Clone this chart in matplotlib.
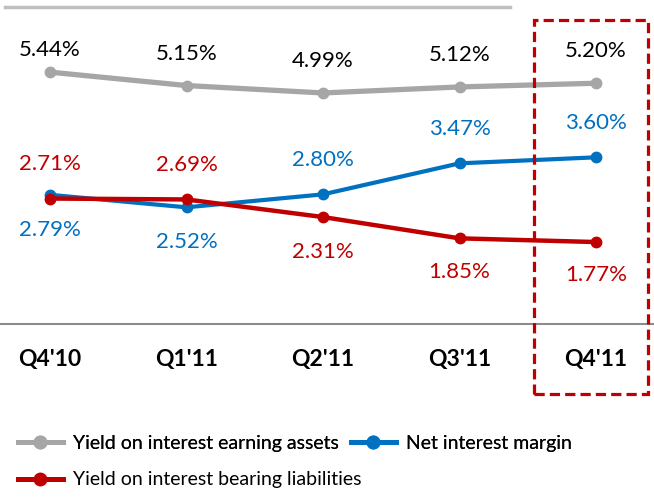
import matplotlib
matplotlib.use("Agg")
import matplotlib.pyplot as plt
from matplotlib.lines import Line2D
from matplotlib.patches import Rectangle

plt.rcParams["font.family"] = ["Lato", "DejaVu Sans"]

# data
quarters = ["Q4'10", "Q1'11", "Q2'11", "Q3'11", "Q4'11"]
yield_assets = [5.44, 5.15, 4.99, 5.12, 5.20]
net_margin = [2.79, 2.52, 2.80, 3.47, 3.60]
yield_liab = [2.71, 2.69, 2.31, 1.85, 1.77]

# label offsets in points (positive = above the point)
off_assets = [16, 23, 23, 23, 23]
off_margin = [-25, -25, 25, 25, 25]
off_liab = [25, 25, -25, -24, -24]

GRAY = "#A6A6A6"
BLUE = "#0070C0"
RED = "#C00000"

W, H = 654, 499
fig = plt.figure(figsize=(W / 100, H / 100), dpi=100)
ax = fig.add_axes([0, (H - 324) / H, 1, 324 / H])

x = list(range(len(quarters)))
series = [
    (yield_assets, off_assets, GRAY, "black", 3.8, "Yield on interest earning assets"),
    (net_margin, off_margin, BLUE, BLUE, 3.0, "Net interest margin"),
    (yield_liab, off_liab, RED, RED, 3.2, "Yield on interest bearing liabilities"),
]
for vals, offs, col, tcol, lw, name in series:
    ax.plot(x, vals, color=col, lw=lw, marker="o", ms=7.5, label=name,
            solid_capstyle="round", zorder=3)
    for xi, v, o in zip(x, vals, offs):
        ax.annotate(f"{v:.2f}%", (xi, v), xytext=(0, o), textcoords="offset points",
                    ha="center", va="center", fontsize=16, color=tcol)

ax.set_xlim(-50 / 136.5, 4 + 58 / 136.5)
ax.set_ylim(0, 324 / 46.3)
ax.set_xticks(x)
ax.set_xticklabels(quarters, fontsize=16.5, fontweight="bold")
ax.tick_params(axis="x", length=0, pad=18)
ax.set_yticks([])
for s in ["top", "left", "right"]:
    ax.spines[s].set_visible(False)
ax.spines["bottom"].set_color("#8C8C8C")
ax.spines["bottom"].set_linewidth(1.5)
ax.patch.set_alpha(0)

# top decorative line
fig.add_artist(Line2D([5 / W, 510 / W], [1 - 7 / H, 1 - 7 / H], transform=fig.transFigure,
                      color="#BFBFBF", lw=2.5))

# dashed highlight box around last quarter
fig.add_artist(Rectangle((534 / W, 1 - 394 / H), 114 / W, 374 / H, transform=fig.transFigure,
                         fill=False, edgecolor=RED, lw=2.3, linestyle=(0, (3.2, 1.6))))

# legend
h = {name: Line2D([], [], color=col, lw=3.6, marker="o", ms=9) for _, _, col, _, lw, name in series}
leg_kw = dict(loc="center left", frameon=False, fontsize=14, handlelength=2.3,
              handletextpad=0.55, borderpad=0, borderaxespad=0)
leg1 = fig.legend([h[series[0][5]], h[series[1][5]]], [series[0][5], series[1][5]],
                  bbox_to_anchor=(18 / W, 1 - 443 / H), ncol=2, columnspacing=0.6, **leg_kw)
leg2 = fig.legend([h[series[2][5]]], [series[2][5]],
                  bbox_to_anchor=(18 / W, 1 - 480 / H), **leg_kw)
fig.add_artist(leg1)

fig.savefig("out.png", dpi=100)
